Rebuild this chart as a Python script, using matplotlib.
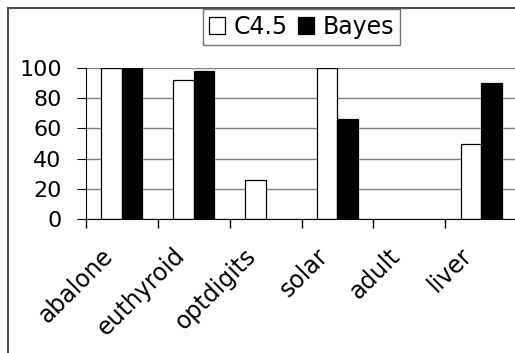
import numpy as np
import matplotlib.pyplot as plt
import matplotlib.transforms as mtransforms
from matplotlib.lines import Line2D

categories = ["abalone", "euthyroid", "optdigits", "solar", "adult", "liver"]
c45 = [100, 92, 26, 100, 0, 50]
bayes = [100, 98, 0, 66, 0, 90]

plt.rcParams['font.family'] = ['DejaVu Sans']

fig = plt.figure(figsize=(5.15, 3.53), dpi=100)
ax = fig.add_axes([86 / 515, 1 - 219 / 353, 431 / 515, 151 / 353])

# outer chart frame, only left and top edges are visible in the original
fig.lines.append(Line2D([7.5 / 515, 7.5 / 515], [0, 1 - 7.5 / 353],
                        transform=fig.transFigure, color='#505050', linewidth=1.5))
fig.lines.append(Line2D([7.5 / 515, 1], [1 - 7.5 / 353, 1 - 7.5 / 353],
                        transform=fig.transFigure, color='#505050', linewidth=1.5))

x = np.arange(len(categories))
w = 0.285
ax.bar(x - w / 2, c45, w, color='white', edgecolor='black',
       linewidth=[0.9 if v else 0 for v in c45], label='C4.5', zorder=3)
ax.bar(x + w / 2, bayes, w, color='black', edgecolor='black',
       linewidth=[0.9 if v else 0 for v in bayes], label='Bayes', zorder=3)

ax.set_xlim(-0.5, len(categories) - 0.5)
ax.set_ylim(0, 100)
ax.set_yticks(range(0, 101, 20))
ax.yaxis.grid(True, color='#808080', linewidth=1)
ax.set_axisbelow(True)

for s in ['top', 'right']:
    ax.spines[s].set_visible(False)
ax.spines['left'].set_color('black')
ax.spines['bottom'].set_color('black')
ax.spines['bottom'].set_zorder(4)

ax.set_xticks(np.arange(-0.5, len(categories), 1.0))
ax.set_xticklabels([])
ax.set_xticks(x, minor=True)
ax.set_xticklabels(categories, minor=True, rotation=45, ha='right', va='center',
                   rotation_mode='anchor', fontsize=17)
ax.tick_params(axis='x', which='major', length=6.5, color='black', width=1)
ax.tick_params(axis='x', which='minor', length=0, pad=0)
ax.tick_params(axis='y', length=6.5, color='black', labelsize=16, pad=11)

offset = mtransforms.ScaledTranslation(-13 / 100, -33 / 100, fig.dpi_scale_trans)
for lab in ax.get_xticklabels(minor=True):
    lab.set_transform(lab.get_transform() + offset)

leg = ax.legend(loc='upper center', ncol=2, fontsize=17,
                frameon=True, fancybox=False, handlelength=0.7, handleheight=0.7,
                handletextpad=0.35, columnspacing=0.42, borderpad=0.25,
                borderaxespad=0, bbox_to_anchor=(301.5 / 515, 1 - 9 / 353),
                bbox_transform=fig.transFigure)
leg.get_frame().set_edgecolor('#505050')
leg.get_frame().set_linewidth(1)

fig.savefig('out.png', dpi=100)
